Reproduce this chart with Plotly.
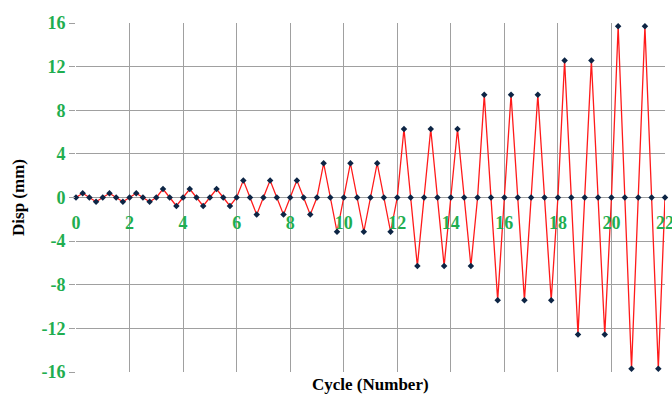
import plotly.graph_objects as go

cycle = [i * 0.25 for i in range(89)]
disp = [
    0, 0.39, 0, -0.39, 0, 0.39, 0, -0.39, 0, 0.39, 0, -0.39,
    0, 0.78, 0, -0.78, 0, 0.78, 0, -0.78, 0, 0.78, 0, -0.78,
    0, 1.57, 0, -1.57, 0, 1.57, 0, -1.57, 0, 1.57, 0, -1.57,
    0, 3.14, 0, -3.14, 0, 3.14, 0, -3.14, 0, 3.14, 0, -3.14,
    0, 6.28, 0, -6.28, 0, 6.28, 0, -6.28, 0, 6.28, 0, -6.28,
    0, 9.42, 0, -9.42, 0, 9.42, 0, -9.42, 0, 9.42, 0, -9.42,
    0, 12.56, 0, -12.56, 0, 12.56, 0, -12.56,
    0, 15.7, 0, -15.7, 0, 15.7, 0, -15.7,
    0,
]
x_ticks = [0, 2, 4, 6, 8, 10, 12, 14, 16, 18, 20, 22]
y_ticks = [-16, -12, -8, -4, 0, 4, 8, 12, 16]
y_tick_text = ["-16", "-12", "-8", "-4", "0", "4", "8", "12", "16"]

green = "#1fae50"
grid = "#a0a0a0"
font_fam = "Liberation Serif"

fig = go.Figure()
fig.add_trace(go.Scatter(
    x=cycle, y=disp, mode="lines+markers",
    line=dict(color="#ff1a1a", width=1.3),
    marker=dict(symbol="diamond", size=5, color="#0d2545"),
    showlegend=False, cliponaxis=False,
))

fig.update_layout(
    width=672, height=397,
    margin=dict(l=76, r=7, t=23, b=25),
    paper_bgcolor="white", plot_bgcolor="white",
    xaxis=dict(
        range=[0, 22], tickvals=x_ticks, showgrid=True, gridcolor=grid, gridwidth=1.3,
        zeroline=False, showline=False, anchor="free", position=0.5,
        tickfont=dict(family=font_fam, size=18, color=green, weight="bold"),
        ticks="", ticklen=0, ticklabelstandoff=12, ticklabeloverflow="allow",
        automargin=False,
    ),
    yaxis=dict(
        range=[-16, 16], tickvals=y_ticks, ticktext=y_tick_text,
        showgrid=True, gridcolor=grid, gridwidth=1.3,
        zeroline=False, showline=False, automargin=False,
        ticks="outside", ticklen=6, tickcolor=grid, tickwidth=1.3,
        tickfont=dict(family=font_fam, size=18, color=green, weight="bold"),
        title=dict(text="Disp (mm)", font=dict(family=font_fam, size=17, color="black", weight="bold"), standoff=12),
    ),
    annotations=[dict(
        text="Cycle (Number)", x=0.5, xref="paper", y=-0.037, yref="paper",
        yanchor="middle", showarrow=False,
        font=dict(family=font_fam, size=17, color="black", weight="bold"),
    )],
)

fig.write_html("out.html")
